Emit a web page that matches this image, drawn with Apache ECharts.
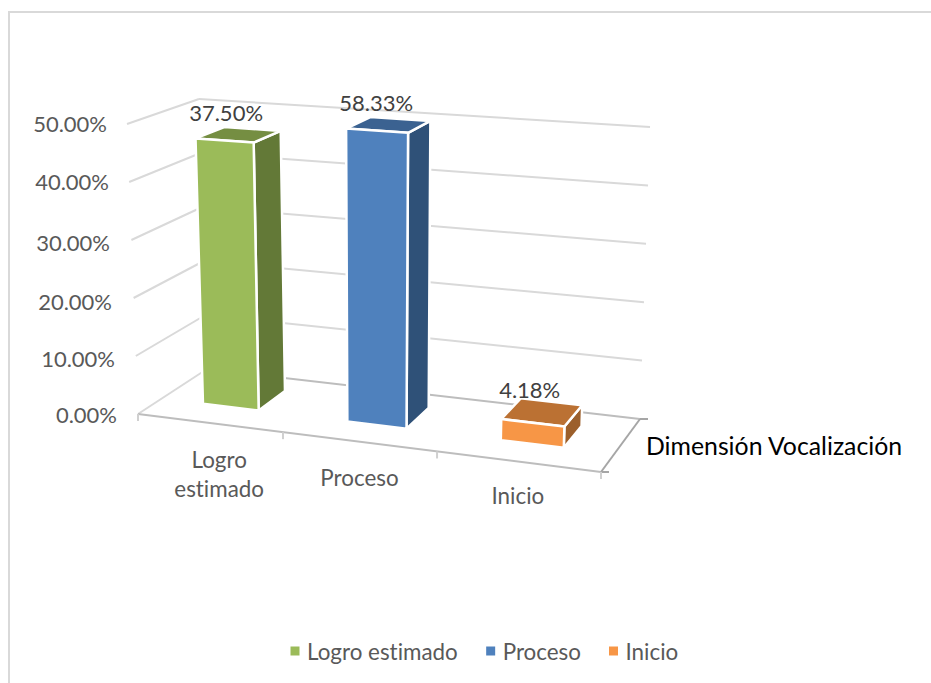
<!DOCTYPE html>
<html>
<head>
<meta charset="utf-8">
<style>html,body{margin:0;padding:0;background:#fff}#c{width:931px;height:683px}svg text{font-variant-ligatures:none}</style>
<script src="https://cdn.jsdelivr.net/npm/echarts@6/dist/echarts.min.js"></script>
</head>
<body>
<div id="c"></div>
<script>
var categories = ['Logro\nestimado', 'Proceso', 'Inicio'];
var seriesNames = ['Logro estimado', 'Proceso', 'Inicio'];
var drawnHeights = [46.5, 50, 3.5];
var valueLabels = ['37.50%', '58.33%', '4.18%'];
var tickValues = [0, 10, 20, 30, 40, 50];
var tickLabels = ['0.00%', '10.00%', '20.00%', '30.00%', '40.00%', '50.00%'];
var axisTitle = 'Dimensión Vocalización';
var colors = ['#9BBB59', '#4F81BD', '#F79646'];
var topColors = ['#758E42', '#3B6291', '#BB7133'];
var sideColors = ['#637937', '#2F5178', '#9C5F2B'];

var FONT = 'Lato, sans-serif';
// The 3D box of the plot: [x, y] of each corner on the screen
var box = {
  fl0: [138, 414], fl1: [127, 124],
  bl0: [207, 369], bl1: [199, 99],
  br0: [640, 419], br1: [650, 127],
  fr0: [601, 472], fr1: [613, 158]
};
var K = 0.912;
function warp(u) { return u * K / (1 + (K - 1) * u); }
function project(u, d, v) {
  var w = warp(u), out = [];
  for (var i = 0; i < 2; i++) {
    var b = (box.fl0[i] * (1 - d) + box.bl0[i] * d) * (1 - w) + (box.fr0[i] * (1 - d) + box.br0[i] * d) * w;
    var t = (box.fl1[i] * (1 - d) + box.bl1[i] * d) * (1 - w) + (box.fr1[i] * (1 - d) + box.br1[i] * d) * w;
    out.push(b * (1 - v) + t * v);
  }
  return out;
}
function uvOf(p, cs) { return [(p[0] - cs.x) / cs.width, (cs.y + cs.height - p[1]) / cs.height]; }

var D0 = 0.34, D1 = 0.76, BAR = 0.192, SHIFT = -0.003;

function barRenderer(idx) {
  return function (params, api) {
    var cs = params.coordSys;
    var band = api.size([1, 0])[0];
    var p = api.coord([api.value(0), api.value(1)]);
    var uv = uvOf(p, cs);
    var uL = uv[0] + SHIFT - BAR * band / cs.width, uR = uv[0] + BAR * band / cs.width, v = uv[1];
    var a = project(uL, D0, 0), b = project(uR, D0, 0), c = project(uR, D1, 0);
    var e = project(uL, D0, v), f = project(uR, D0, v), g = project(uR, D1, v), h = project(uL, D1, v);
    var stroke = { stroke: '#fff', lineWidth: 2.5, lineJoin: 'round' };
    function poly(pts, fill) {
      return { type: 'polygon', shape: { points: pts }, style: Object.assign({ fill: fill }, stroke) };
    }
    var cx = (e[0] + g[0]) / 2 - 12, cy = (e[1] + g[1]) / 2 - 22.5;
    return {
      type: 'group',
      children: [
        poly([b, c, g, f], sideColors[idx]),
        poly([e, f, g, h], topColors[idx]),
        poly([a, b, f, e], colors[idx]),
        { type: 'text', style: { x: cx, y: cy, text: valueLabels[idx], fill: '#404040', font: '22px ' + FONT, align: 'center', verticalAlign: 'middle' } }
      ]
    };
  };
}

function wallRenderer(params, api) {
  var cs = params.coordSys;
  var val = api.value(1);
  var v = uvOf(api.coord([0, val]), cs)[1];
  var kids = [{
    type: 'polyline',
    shape: { points: [project(0, 0, v), project(0, 1, v)] },
    style: { stroke: '#d9d9d9', lineWidth: 2, fill: null }
  }, {
    type: 'polyline',
    shape: { points: [project(0, 1, v), project(1, 1, v)] },
    style: { stroke: val === 0 ? '#bdbdbd' : '#d9d9d9', lineWidth: 2, fill: null }
  }];
  if (val === 0) {
    var fl = project(0, 0, 0), fr = project(1, 0, 0), br = project(1, 1, 0);
    kids.push({ type: 'polyline', shape: { points: [fl, fr] }, style: { stroke: '#bdbdbd', lineWidth: 2, fill: null } });
    kids.push({ type: 'polyline', shape: { points: [fr, br] }, style: { stroke: '#a6a6a6', lineWidth: 2, fill: null } });
    kids.push({ type: 'polyline', shape: { points: [br, [br[0] + 8, br[1]]] }, style: { stroke: '#a6a6a6', lineWidth: 2, fill: null } });
    kids.push({ type: 'polyline', shape: { points: [fr, [fr[0] + 8, fr[1]]] }, style: { stroke: '#a6a6a6', lineWidth: 2, fill: null } });
    for (var i = 0; i <= categories.length; i++) {
      var q = project(i / categories.length, 0, 0);
      kids.push({ type: 'polyline', shape: { points: [q, [q[0], q[1] + 7]] }, style: { stroke: '#d0d0d0', lineWidth: 2, fill: null } });
    }
  }
  return { type: 'group', children: kids };
}

var yRich = {}, yPad = [[0, 21, 0, 0], [4, 23, 0, 0], [6, 26, 0, 0], [4, 28, 0, 0], [0, 29, 2, 0], [0, 31, 2, 0]];
tickLabels.forEach(function (t, i) {
  yRich['t' + i] = { fontFamily: FONT, fontSize: 22, color: '#595959', padding: yPad[i] };
});
var xRich = {
  c0: { fontFamily: FONT, fontSize: 22.4, color: '#595959', lineHeight: 29, padding: [61, 0, 0, 8] },
  c1: { fontFamily: FONT, fontSize: 22.4, color: '#595959', padding: [52, 20, 0, 0] },
  c2: { fontFamily: FONT, fontSize: 22.4, color: '#595959', padding: [70, 12, 0, 0] }
};

var series = [{
  name: 'walls', type: 'custom', silent: true, z: 1,
  coordinateSystem: 'cartesian2d',
  data: tickValues.map(function (v) { return [0, v]; }),
  renderItem: wallRenderer
}];
seriesNames.forEach(function (n, i) {
  series.push({
    name: n, type: 'custom', silent: true, z: 2 + i,
    coordinateSystem: 'cartesian2d',
    itemStyle: { color: colors[i] },
    data: [[i, drawnHeights[i]]],
    renderItem: barRenderer(i)
  });
});

var chart = echarts.init(document.getElementById('c'), null, { renderer: 'svg' });
chart.setOption({
  animation: false,
  backgroundColor: '#fff',
  grid: { left: 138, right: 330, top: 124, bottom: 269, containLabel: false },
  xAxis: {
    type: 'category', data: categories,
    axisLine: { show: false }, axisTick: { show: false }, splitLine: { show: false },
    axisLabel: {
      interval: 0, margin: 0, hideOverlap: false, verticalAlign: 'top',
      formatter: function (val, i) {
        return val.split('\n').map(function (s) { return '{c' + i + '|' + s + '}'; }).join('\n');
      },
      rich: xRich
    },
    name: axisTitle, nameLocation: 'end', nameGap: 45,
    nameTextStyle: { fontFamily: FONT, fontSize: 24.8, color: '#000', align: 'left', verticalAlign: 'top', padding: [19, 0, 0, 0] }
  },
  yAxis: {
    type: 'value', min: 0, max: 50, interval: 10,
    axisLine: { show: false }, axisTick: { show: false }, splitLine: { show: false },
    axisLabel: {
      margin: 0, align: 'right',
      formatter: function (val) {
        var i = tickValues.indexOf(val);
        return '{t' + i + '|' + tickLabels[i] + '}';
      },
      rich: yRich
    }
  },
  legend: {
    data: seriesNames, left: 285.5, top: 635, icon: 'rect', itemWidth: 9, itemHeight: 9, itemGap: 28,
    selectedMode: false,
    textStyle: { fontFamily: FONT, fontSize: 22.4, color: '#595959', padding: [0, 0, 0, 2.5] }
  },
  graphic: [{
    type: 'polyline', silent: true,
    shape: { points: [[9, 683], [9, 12], [931, 12]] },
    style: { stroke: '#d9d9d9', lineWidth: 2, fill: null }
  }],
  series: series
});
</script>
</body>
</html>
